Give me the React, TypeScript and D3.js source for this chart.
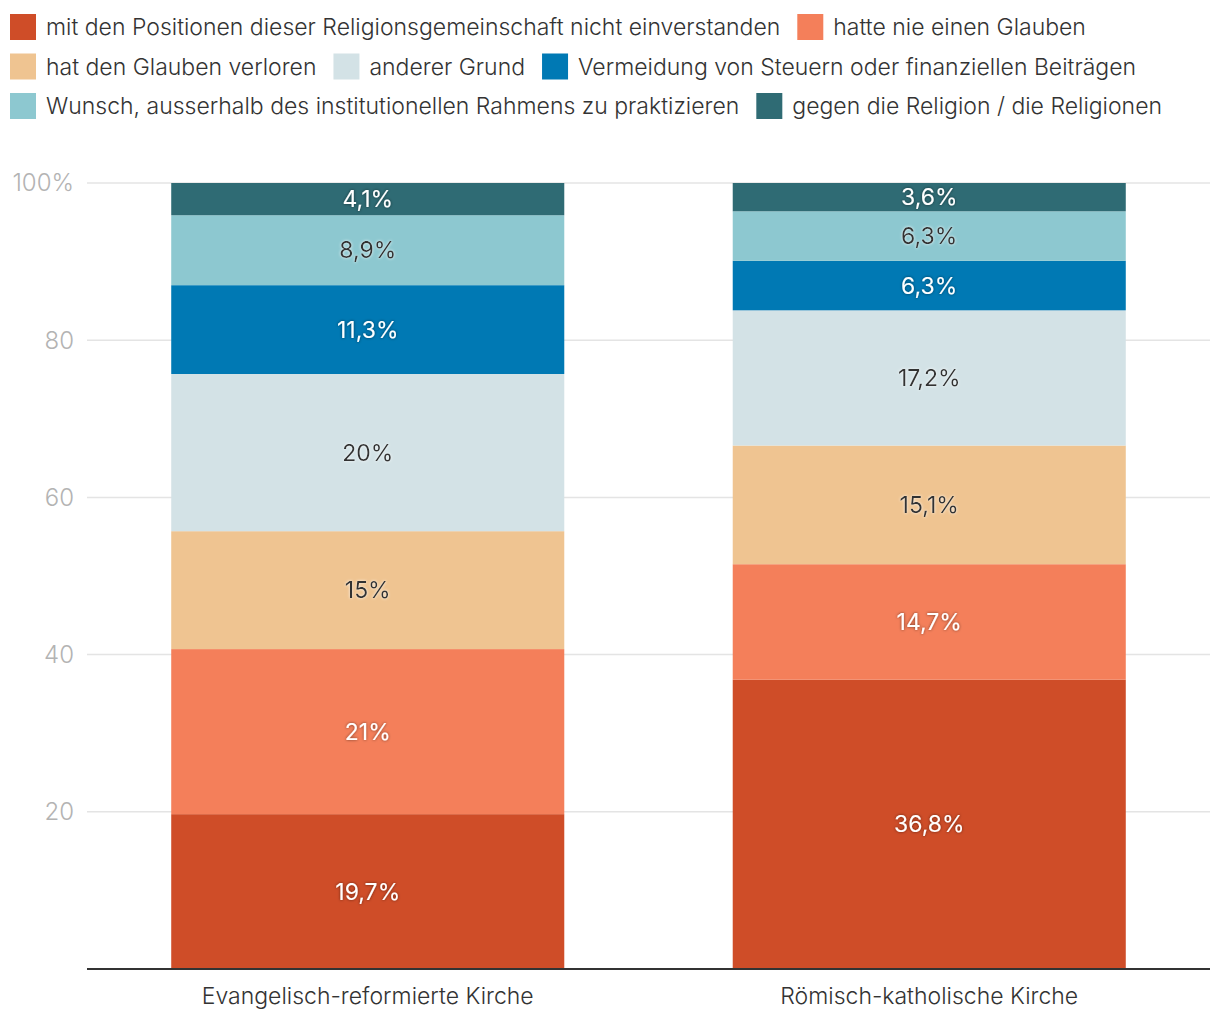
import React, { useEffect, useRef } from "react";
import * as d3 from "d3";

const categories = ["Evangelisch-reformierte Kirche", "Römisch-katholische Kirche"];
const seriesNames = [
  "mit den Positionen dieser Religionsgemeinschaft nicht einverstanden",
  "hatte nie einen Glauben",
  "hat den Glauben verloren",
  "anderer Grund",
  "Vermeidung von Steuern oder finanziellen Beiträgen",
  "Wunsch, ausserhalb des institutionellen Rahmens zu praktizieren",
  "gegen die Religion / die Religionen",
];
const evangelisch = [19.7, 21, 15, 20, 11.3, 8.9, 4.1];
const katholisch = [36.8, 14.7, 15.1, 17.2, 6.3, 6.3, 3.6];
const labelsEv = ["19,7%", "21%", "15%", "20%", "11,3%", "8,9%", "4,1%"];
const labelsKa = ["36,8%", "14,7%", "15,1%", "17,2%", "6,3%", "6,3%", "3,6%"];
const colors = ["#cf4d28", "#f47f5a", "#efc491", "#d3e2e6", "#0079b4", "#8dc8d0", "#2f6b74"];
const darkText = [false, false, true, true, false, true, false];
const yTicks = [20, 40, 60, 80, 100];

const W = 1220;
const H = 1020;
const FONT = "Inter, Roboto, 'Noto Sans', sans-serif";

export default function App() {
  const ref = useRef<SVGSVGElement>(null);

  useEffect(() => {
    document.body.style.margin = "0";
    const svg = d3.select(ref.current);
    svg.selectAll("*").remove();

    const defs = svg.append("defs");
    const mkFilter = (id: string, color: string, op: number) => {
      const f = defs.append("filter").attr("id", id).attr("x", "-20%").attr("y", "-40%").attr("width", "140%").attr("height", "180%");
      f.append("feDropShadow").attr("dx", 0).attr("dy", 0).attr("stdDeviation", 1.6)
        .attr("flood-color", color).attr("flood-opacity", op);
    };
    mkFilter("shDark", "#000", 0.55);
    mkFilter("shLight", "#fff", 0.9);

    const left = 87, right = 1210, top = 183, bottom = 969;
    const x = d3.scaleBand<string>().domain(categories).range([left, right]).paddingInner(0.3).paddingOuter(0.15);
    const y = d3.scaleLinear().domain([0, 100]).range([bottom, top]);

    // legend (flow layout)
    const lg = svg.append("g");
    let lx = 10, ly = 27;
    const maxX = 1212;
    seriesNames.forEach((name, i) => {
      const g = lg.append("g");
      const t = g.append("text").text(name).attr("font-family", FONT).attr("font-size", 23)
        .attr("font-weight", 300).attr("fill", "#333").attr("dy", "0.35em");
      const tw = (t.node() as SVGTextElement).getComputedTextLength();
      const itemW = 36 + tw;
      if (lx + itemW > maxX && lx > 10) {
        lx = 10;
        ly += 39.5;
      }
      g.append("rect").attr("x", lx).attr("y", ly - 13).attr("width", 26).attr("height", 26).attr("fill", colors[i]);
      t.attr("x", lx + 36).attr("y", ly);
      lx += itemW + 17;
    });

    // gridlines
    svg.append("g").selectAll("line").data(yTicks).join("line")
      .attr("x1", left).attr("x2", right)
      .attr("y1", (d) => y(d)).attr("y2", (d) => y(d))
      .attr("stroke", "#e4e4e4").attr("stroke-width", 1.5);

    svg.append("g").selectAll("text").data(yTicks).join("text")
      .attr("x", 74).attr("y", (d) => y(d)).attr("dy", "0.35em")
      .attr("text-anchor", "end").attr("font-family", FONT).attr("font-size", 24).attr("font-weight", 300)
      .attr("fill", "#b3b3b3").text((d) => (d === 100 ? "100%" : String(d)));

    const data = [evangelisch, katholisch];
    const labels = [labelsEv, labelsKa];
    data.forEach((vals, ci) => {
      let cum = 0;
      const segs = vals.map((v, si) => {
        const s = { y0: cum, y1: cum + v, si, label: labels[ci][si] };
        cum += v;
        return s;
      });
      const g = svg.append("g");
      g.selectAll("rect").data(segs).join("rect")
        .attr("x", x(categories[ci])!).attr("width", x.bandwidth())
        .attr("y", (d) => y(d.y1)).attr("height", (d) => y(d.y0) - y(d.y1))
        .attr("fill", (d) => colors[d.si]);
      g.selectAll("text").data(segs).join("text")
        .attr("x", x(categories[ci])! + x.bandwidth() / 2)
        .attr("y", (d) => y((d.y0 + d.y1) / 2)).attr("dy", "0.35em")
        .attr("text-anchor", "middle").attr("font-family", FONT).attr("font-size", 23).attr("font-weight", 400)
        .attr("fill", (d) => (darkText[d.si] ? "#333" : "#fff"))
        .attr("filter", (d) => (darkText[d.si] ? "url(#shLight)" : "url(#shDark)"))
        .text((d) => d.label);
    });

    // baseline
    svg.append("line").attr("x1", left).attr("x2", right).attr("y1", bottom).attr("y2", bottom)
      .attr("stroke", "#333").attr("stroke-width", 2);

    svg.append("g").selectAll("text").data(categories).join("text")
      .attr("x", (d) => x(d)! + x.bandwidth() / 2).attr("y", 996).attr("dy", "0.35em")
      .attr("text-anchor", "middle").attr("font-family", FONT).attr("font-size", 23).attr("font-weight", 300)
      .attr("fill", "#333").text((d) => d);
  }, []);

  return <svg ref={ref} width={W} height={H} style={{ display: "block", background: "#fff" }} />;
}
